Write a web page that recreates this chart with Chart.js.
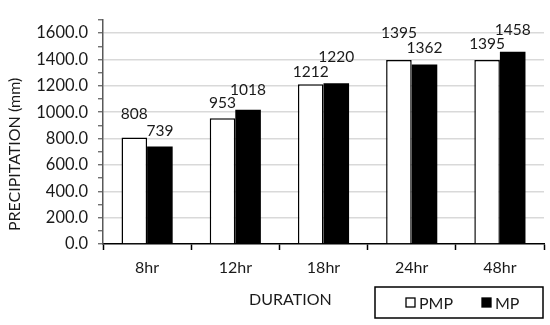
<!DOCTYPE html>
<html><head><meta charset="utf-8">
<script src="https://cdn.jsdelivr.net/npm/chart.js@4/dist/chart.umd.min.js"></script>
<style>html,body{margin:0;padding:0;background:#fff}#wrap{width:550px;height:325px}</style>
</head><body><div id="wrap"><canvas id="c" width="550" height="325"></canvas></div>
<script>
const categories = ['8hr', '12hr', '18hr', '24hr', '48hr'];
const pmpValues = [808, 953, 1212, 1395, 1395];
const mpValues = [739, 1018, 1220, 1362, 1458];
const seriesNames = ['PMP', 'MP'];
const yAxisTitle = 'PRECIPITATION (mm)';
const xAxisTitle = 'DURATION';

// label lift above each bar top (px), style only: [PMP, MP] per category
const labelLift = [[23, 16], [15, 20], [12, 26], [27, 16], [16, 22]];
const FONT = 'Lato';

const extras = {
  id: 'extras',
  afterDatasetsDraw(chart) {
    const ctx = chart.ctx;
    ctx.save();
    ctx.fillStyle = '#1a1a1a';
    ctx.font = '15.5px ' + FONT;
    ctx.textAlign = 'center';
    ctx.textBaseline = 'middle';
    chart.data.datasets.forEach((ds, di) => {
      chart.getDatasetMeta(di).data.forEach((bar, i) => {
        ctx.fillText(String(ds.data[i]), bar.x, bar.y - labelLift[i][di]);
      });
    });
    // axis titles
    const ca = chart.chartArea;
    ctx.font = '16px ' + FONT;
    ctx.fillText(xAxisTitle, ca.left + (ca.right - ca.left) * 0.425, 300);
    ctx.save();
    ctx.translate(15, ca.top + (ca.bottom - ca.top) * 0.6);
    ctx.rotate(-Math.PI / 2);
    ctx.font = '16px ' + FONT;
    ctx.fillText(yAxisTitle, 0, 0);
    ctx.restore();
    // legend box
    const lx = 375, ly = 287, lw = 168, lh = 31;
    ctx.strokeStyle = '#000';
    ctx.lineWidth = 1.5;
    ctx.strokeRect(lx, ly, lw, lh);
    ctx.font = '16px ' + FONT;
    ctx.textAlign = 'left';
    const items = [{x: 406}, {x: 482}];
    chart.data.datasets.forEach((ds, di) => {
      const sx = items[di].x, sy = ly + lh / 2;
      ctx.fillStyle = ds.backgroundColor;
      ctx.fillRect(sx, sy - 4.5, 9, 9);
      ctx.strokeStyle = '#000';
      ctx.lineWidth = 1.3;
      ctx.strokeRect(sx, sy - 4.5, 9, 9);
      ctx.fillStyle = '#1a1a1a';
      ctx.fillText(ds.label, sx + 13, sy + 1);
    });
    ctx.restore();
  }
};

new Chart(document.getElementById('c'), {
  type: 'bar',
  data: {
    labels: categories,
    datasets: [
      { label: seriesNames[0], data: pmpValues, backgroundColor: '#ffffff', borderColor: '#000000', borderWidth: 1.5 },
      { label: seriesNames[1], data: mpValues, backgroundColor: '#000000', borderColor: '#000000', borderWidth: 0 }
    ]
  },
  options: {
    responsive: false,
    animation: false,
    devicePixelRatio: 1,
    layout: { padding: { left: 0, right: 6, top: 6, bottom: 0 } },
    datasets: { bar: { barPercentage: 1.0, categoryPercentage: 0.58 } },
    plugins: { legend: { display: false }, tooltip: { enabled: false } },
    scales: {
      x: {
        afterFit(s) { s.height = 81; },
        grid: { display: true, drawOnChartArea: false, offset: true, tickLength: 6, tickColor: '#000', tickWidth: 1.5 },
        border: { color: '#000', width: 1.5 },
        ticks: { color: '#1a1a1a', font: { family: FONT, size: 16 }, padding: 8 }
      },
      y: {
        min: 0, max: 1700,
        afterFit(s) { s.width = 103; },
        afterBuildTicks(s) {
          const t = [];
          for (let v = 0; v <= 1700; v += 100) t.push({ value: v });
          s.ticks = t;
        },
        grid: {
          color: (c) => (c.tick && c.tick.value % 200 === 0 && c.tick.value > 0) ? '#d9d9d9' : 'rgba(0,0,0,0)',
          lineWidth: 1.5,
          tickLength: 5,
          tickColor: '#595959',
          tickWidth: 1.2,
          drawTicks: true
        },
        border: { color: '#595959', width: 1.5 },
        ticks: {
          color: '#1a1a1a',
          font: { family: FONT, size: 16.5 },
          padding: 10,
          autoSkip: false,
          callback: (v) => (v % 200 === 0 ? v.toFixed(1) : '')
        }
      }
    }
  },
  plugins: [extras]
});
</script>
</body></html>
